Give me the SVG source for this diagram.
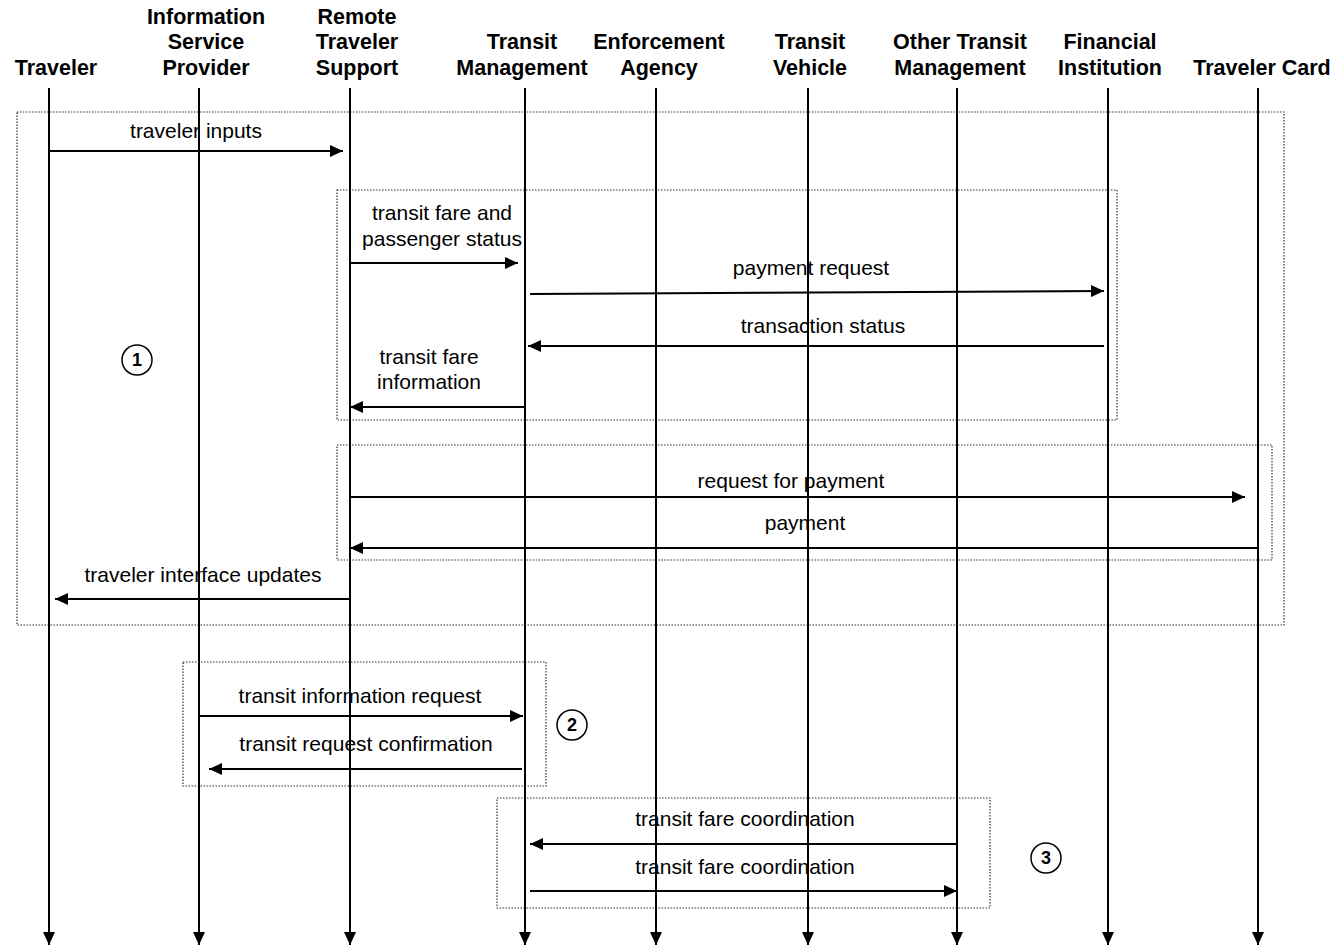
<svg xmlns="http://www.w3.org/2000/svg" width="1333" height="946" viewBox="0 0 1333 946">
<style>
.hd{font-family:"Liberation Sans",Arial,sans-serif;font-size:21.5px;font-weight:bold;fill:#000;text-anchor:middle}
.lb{font-family:"Liberation Sans",Arial,sans-serif;font-size:21px;fill:#000;text-anchor:middle}
.life{stroke:#000;stroke-width:2;fill:none}
.msg{stroke:#000;stroke-width:2;fill:none}
.grp{stroke:#333;stroke-width:1.2;stroke-dasharray:1.5 1.5;fill:none}
.num{stroke:#000;stroke-width:1.5;fill:#fff}
.nt{font-family:"Liberation Sans",Arial,sans-serif;font-size:18px;font-weight:bold;text-anchor:middle}
</style>
<defs>
<marker id="ah" viewBox="0 0 13 12" refX="13" refY="6" markerWidth="13" markerHeight="12" markerUnits="userSpaceOnUse" orient="auto">
<path d="M0,0 L13,6 L0,12 Z" fill="#000"/>
</marker>
</defs>
<rect width="1333" height="946" fill="#fff"/>

<!-- grouping frames -->
<g id="frames">
<rect class="grp" x="17" y="112" width="1267" height="513"/>
<rect class="grp" x="337" y="190" width="780" height="230"/>
<rect class="grp" x="337" y="445" width="935" height="115"/>
<rect class="grp" x="183" y="662" width="363" height="124"/>
<rect class="grp" x="497" y="798" width="493" height="110"/>
</g>

<!-- participants -->
<g id="traveler"><text class="hd" x="56" y="75">Traveler</text><line class="life" x1="49" y1="88" x2="49" y2="945" marker-end="url(#ah)"/></g>
<g id="isp"><text class="hd" x="206" y="24">Information</text><text class="hd" x="206" y="49">Service</text><text class="hd" x="206" y="75">Provider</text><line class="life" x1="199" y1="88" x2="199" y2="945" marker-end="url(#ah)"/></g>
<g id="rts"><text class="hd" x="357" y="24">Remote</text><text class="hd" x="357" y="49">Traveler</text><text class="hd" x="357" y="75">Support</text><line class="life" x1="350" y1="88" x2="350" y2="945" marker-end="url(#ah)"/></g>
<g id="tm"><text class="hd" x="522" y="49">Transit</text><text class="hd" x="522" y="75">Management</text><line class="life" x1="525" y1="88" x2="525" y2="945" marker-end="url(#ah)"/></g>
<g id="ea"><text class="hd" x="659" y="49">Enforcement</text><text class="hd" x="659" y="75">Agency</text><line class="life" x1="656" y1="88" x2="656" y2="945" marker-end="url(#ah)"/></g>
<g id="tv"><text class="hd" x="810" y="49">Transit</text><text class="hd" x="810" y="75">Vehicle</text><line class="life" x1="808" y1="88" x2="808" y2="945" marker-end="url(#ah)"/></g>
<g id="otm"><text class="hd" x="960" y="49">Other Transit</text><text class="hd" x="960" y="75">Management</text><line class="life" x1="957" y1="88" x2="957" y2="945" marker-end="url(#ah)"/></g>
<g id="fi"><text class="hd" x="1110" y="49">Financial</text><text class="hd" x="1110" y="75">Institution</text><line class="life" x1="1108" y1="88" x2="1108" y2="945" marker-end="url(#ah)"/></g>
<g id="tc"><text class="hd" x="1262" y="75">Traveler Card</text><line class="life" x1="1258" y1="88" x2="1258" y2="945" marker-end="url(#ah)"/></g>

<!-- messages -->
<g id="connectors">
<line class="msg" x1="49" y1="151" x2="343" y2="151" marker-end="url(#ah)"/>
<line class="msg" x1="350" y1="263" x2="518" y2="263" marker-end="url(#ah)"/>
<line class="msg" x1="530" y1="294" x2="1104" y2="291" marker-end="url(#ah)"/>
<line class="msg" x1="1104" y1="346" x2="528" y2="346" marker-end="url(#ah)"/>
<line class="msg" x1="525" y1="407" x2="350" y2="407" marker-end="url(#ah)"/>
<line class="msg" x1="350" y1="497" x2="1245" y2="497" marker-end="url(#ah)"/>
<line class="msg" x1="1258" y1="548" x2="350" y2="548" marker-end="url(#ah)"/>
<line class="msg" x1="350" y1="599" x2="55" y2="599" marker-end="url(#ah)"/>
<line class="msg" x1="199" y1="716" x2="523" y2="716" marker-end="url(#ah)"/>
<line class="msg" x1="522" y1="769" x2="209" y2="769" marker-end="url(#ah)"/>
<line class="msg" x1="957" y1="844" x2="530" y2="844" marker-end="url(#ah)"/>
<line class="msg" x1="530" y1="891" x2="957" y2="891" marker-end="url(#ah)"/>
</g>

<!-- message labels -->
<g id="labels">
<text class="lb" x="196" y="138">traveler inputs</text>
<text class="lb" x="442" y="220">transit fare and</text>
<text class="lb" x="442" y="246">passenger status</text>
<text class="lb" x="811" y="275">payment request</text>
<text class="lb" x="823" y="333">transaction status</text>
<text class="lb" x="429" y="364">transit fare</text>
<text class="lb" x="429" y="389">information</text>
<text class="lb" x="791" y="488">request for payment</text>
<text class="lb" x="805" y="530">payment</text>
<text class="lb" x="203" y="582">traveler interface updates</text>
<text class="lb" x="360" y="703">transit information request</text>
<text class="lb" x="366" y="751">transit request confirmation</text>
<text class="lb" x="745" y="826">transit fare coordination</text>
<text class="lb" x="745" y="874">transit fare coordination</text>
</g>

<!-- step numbers -->
<g id="step1"><circle class="num" cx="137" cy="360" r="15"/><text class="nt" x="137" y="366">1</text></g>
<g id="step2"><circle class="num" cx="572" cy="725" r="15"/><text class="nt" x="572" y="731">2</text></g>
<g id="step3"><circle class="num" cx="1046" cy="858" r="15"/><text class="nt" x="1046" y="864">3</text></g>
</svg>
